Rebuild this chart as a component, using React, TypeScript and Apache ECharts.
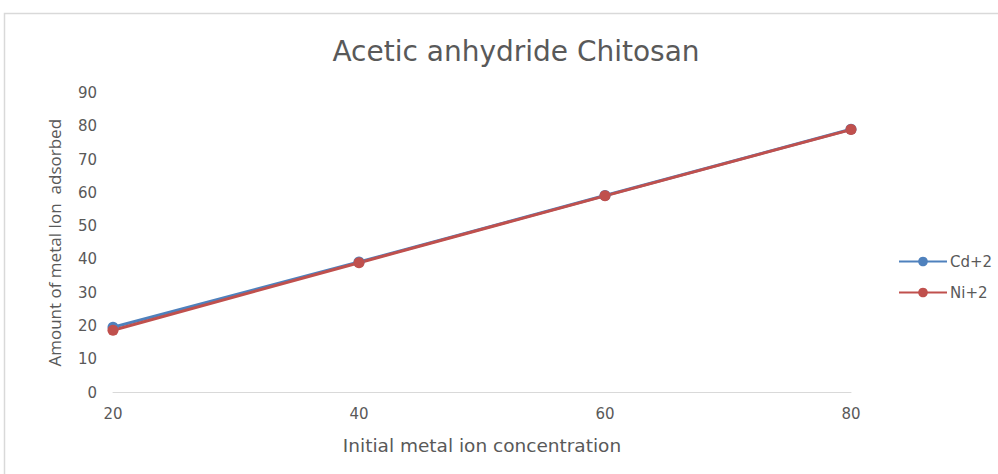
import React, { useEffect, useRef } from "react";
import * as echarts from "echarts";

const concentrations = [20, 40, 60, 80];
const cdValues = [19.6, 39.2, 59.2, 79.1];
const niValues = [18.7, 39.0, 59.1, 79.0];
const seriesNames = ["Cd+2", "Ni+2"];
const seriesColors = ["#4F81BD", "#C0504D"];

const FONT = "'DejaVu Sans', sans-serif";
const FONT_V = "'Open Sans', sans-serif";

export default function App() {
  const ref = useRef<HTMLDivElement>(null);

  useEffect(() => {
    if (!ref.current) return;
    const chart = echarts.init(ref.current, null, { renderer: "svg" });
    const toPairs = (vals: number[]) => concentrations.map((c, i) => [c, vals[i]]);
    chart.setOption({
      animation: false,
      backgroundColor: "#ffffff",
      textStyle: { fontFamily: FONT },
      title: {
        text: "Acetic anhydride Chitosan",
        left: 511,
        top: 32,
        textAlign: "center",
        textStyle: { fontFamily: FONT, fontSize: 28, fontWeight: "normal", color: "#595959" },
      },
      graphic: [
        {
          type: "rect",
          shape: { x: 4.5, y: 13.5, width: 1200, height: 800 },
          style: { fill: "none", stroke: "#d9d9d9", lineWidth: 1.5 },
          silent: true,
        },
      ],
      legend: {
        orient: "vertical",
        left: 893,
        top: 249,
        itemGap: 16,
        itemWidth: 48,
        itemHeight: 12,
        data: seriesNames,
        textStyle: { fontFamily: FONT, fontSize: 15, color: "#595959", padding: [0, 0, 0, -2] },
      },
      grid: { left: 113, right: 147, top: 93, bottom: 81.5 },
      xAxis: {
        type: "value",
        min: 20,
        max: 80,
        interval: 20,
        name: "Initial metal ion concentration",
        nameLocation: "middle",
        nameGap: 43,
        nameTextStyle: { fontFamily: FONT, fontSize: 18.5, color: "#595959" },
        axisLine: { show: true, lineStyle: { color: "#d9d9d9", width: 1 } },
        axisTick: { show: false },
        splitLine: { show: false },
        axisLabel: { fontFamily: FONT, fontSize: 15, color: "#595959", margin: 14 },
      },
      yAxis: {
        type: "value",
        min: 0,
        max: 90,
        interval: 10,
        name: "Amount of metal Ion  adsorbed",
        nameLocation: "middle",
        nameGap: 50,
        nameTextStyle: { fontFamily: FONT_V, fontSize: 17, color: "#595959" },
        axisLine: { show: false },
        axisTick: { show: false },
        splitLine: { show: false },
        axisLabel: { fontFamily: FONT, fontSize: 15, color: "#595959", margin: 16 },
      },
      series: [
        {
          name: seriesNames[0],
          type: "line",
          data: toPairs(cdValues),
          color: seriesColors[0],
          symbol: "circle",
          symbolSize: 11,
          lineStyle: { width: 3 },
        },
        {
          name: seriesNames[1],
          type: "line",
          data: toPairs(niValues),
          color: seriesColors[1],
          symbol: "circle",
          symbolSize: 11,
          lineStyle: { width: 3 },
        },
      ],
    });
    return () => chart.dispose();
  }, []);

  return (
    <div
      ref={ref}
      style={{ position: "fixed", left: 0, top: 0, width: 998, height: 474 }}
    />
  );
}
